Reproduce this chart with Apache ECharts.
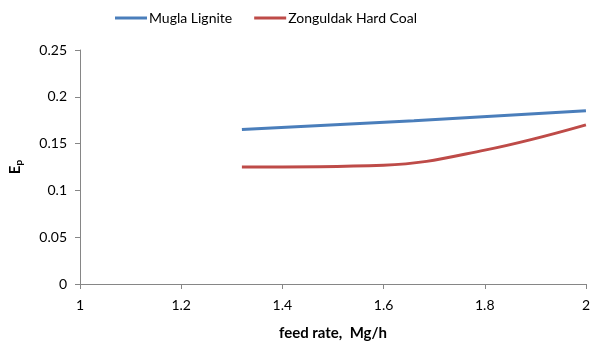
<!DOCTYPE html>
<html><head><meta charset="utf-8">
<script src="https://cdn.jsdelivr.net/npm/echarts@6/dist/echarts.min.js"></script>
<style>html,body{margin:0;padding:0;background:#fff}#c{width:593px;height:346px}</style>
</head><body><div id="c"></div>
<script>
var seriesNames = ["Mugla Lignite", "Zonguldak Hard Coal"];
var muglaX = [1.32, 1.66, 2.0];
var muglaY = [0.165, 0.1745, 0.185];
var zongX = [1.32, 1.6, 1.8, 2.0];
var zongY = [0.125, 0.127, 0.143, 0.17];
var xTicks = [1, 1.2, 1.4, 1.6, 1.8, 2];
var yTicks = [0, 0.05, 0.1, 0.15, 0.2, 0.25];

function pairs(xs, ys){ return xs.map(function(x,i){return [x, ys[i]];}); }
var font = 'Lato, "Open Sans", sans-serif';
var chart = echarts.init(document.getElementById('c'));
chart.setOption({
  animation:false,
  textStyle:{fontFamily:font},
  legend:{
    top:6, left:110, itemWidth:32, itemHeight:3, itemGap:22,
    icon:'rect',
    textStyle:{fontFamily:font, fontSize:14, color:'#000', padding:[0,0,0,-3]},
    data:seriesNames
  },
  grid:{left:80, right:3, top:50, bottom:62, containLabel:false},
  xAxis:{
    type:'value', min:1, max:2, interval:0.2,
    axisLine:{lineStyle:{color:'#868686', width:1}},
    axisTick:{show:true, length:5, lineStyle:{color:'#868686'}},
    splitLine:{show:false},
    axisLabel:{color:'#000', fontSize:14, margin:14, fontFamily:font,
      formatter:function(v){return String(+v.toFixed(2));}},
    name:'feed rate,  Mg/h', nameLocation:'middle', nameGap:42,
    nameTextStyle:{fontWeight:'bold', fontSize:15, color:'#000', fontFamily:font}
  },
  yAxis:{
    type:'value', min:0, max:0.25, interval:0.05,
    axisLine:{show:true, lineStyle:{color:'#868686', width:1}},
    axisTick:{show:true, length:5, lineStyle:{color:'#868686'}},
    splitLine:{show:false},
    axisLabel:{color:'#000', fontSize:14, margin:13, fontFamily:font,
      formatter:function(v){return String(+v.toFixed(2));}},
    name:'{a|E}{b|p}', nameLocation:'middle', nameGap:56, nameRotate:90,
    nameTextStyle:{rich:{
      a:{fontWeight:'bold', fontSize:15, color:'#000', fontFamily:font},
      b:{fontWeight:'bold', fontSize:10, color:'#000', fontFamily:font, verticalAlign:'bottom', padding:[7,0,0,0]}
    }}
  },
  series:[
    {name:seriesNames[0], type:'line', data:pairs(muglaX, muglaY), smooth:false,
     showSymbol:false, symbol:'none', lineStyle:{width:3, color:'#4a7ebb'}, itemStyle:{color:'#4a7ebb'}},
    {name:seriesNames[1], type:'line', data:pairs(zongX, zongY), smooth:0.4,
     showSymbol:false, symbol:'none', lineStyle:{width:3, color:'#be4b48'}, itemStyle:{color:'#be4b48'}}
  ]
});
</script></body></html>
